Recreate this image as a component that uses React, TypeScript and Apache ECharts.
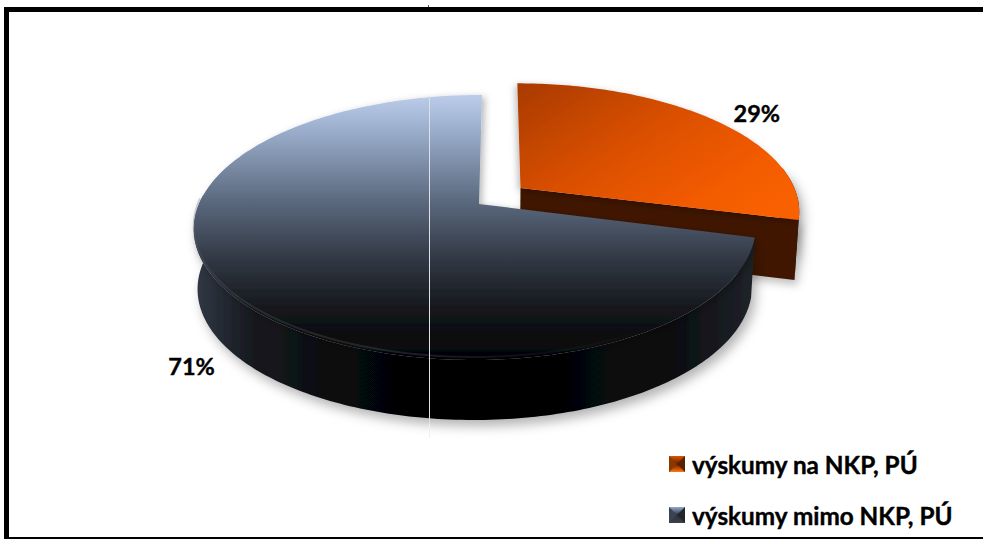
import React, { useEffect, useRef } from "react";
import * as echarts from "echarts";

const categories = ["výskumy na NKP, PÚ", "výskumy mimo NKP, PÚ"];
const shares = [29, 71];
const percentLabels = ["29%", "71%"];

const FONT = "Lato, Carlito, 'Open Sans', sans-serif";
const vGrad = (stops: [number, string][]) =>
  new echarts.graphic.LinearGradient(0, 0, 0, 1, stops.map(([offset, color]) => ({ offset, color })));
const hGrad = (stops: [number, string][]) =>
  new echarts.graphic.LinearGradient(0, 0, 1, 0, stops.map(([offset, color]) => ({ offset, color })));

// projection of the tilted disc
const CX = 479, CY = 204, RX = 280, RY = 128.4, K = 0.177, SKEW = 20, DEPTH = 60, TAPER = 0.987;
const project = (u: number, v: number): [number, number] => {
  const w = 1 + K * v;
  return [CX + (RX * u) / w + SKEW * (1 - 1 / w), CY - (RY * v) / w];
};

const looks = [
  {
    explode: [0.15, 0.1274],
    rightScale: 1,
    wallRange: [80, 105],
    top: new echarts.graphic.LinearGradient(0, 0, 1, 0.75, [
      { offset: 0, color: "#a83a00" },
      { offset: 0.45, color: "#d94f00" },
      { offset: 0.8, color: "#f25a00" },
      { offset: 1, color: "#f86000" },
    ]),
    side: "#401600",
    face: "#401600",
    labelRadius: 1.25,
    labelDrop: 8,
    labelShift: 0,
  },
  {
    explode: [0, 0],
    rightScale: 0.975,
    wallRange: [104, 275],
    top: vGrad([
      [0, "#bccdea"],
      [0.13, "#9bafcd"],
      [0.4, "#5b697e"],
      [0.62, "#313844"],
      [0.81, "#14171b"],
      [1, "#030304"],
    ]),
    side: hGrad([
      [0, "#323946"],
      [0.1, "#171a20"],
      [0.3, "#060708"],
      [0.55, "#000000"],
      [0.85, "#0b0d10"],
      [1, "#1e2329"],
    ]),
    face: "#14171b",
    labelRadius: 1.136,
    labelDrop: DEPTH,
    labelShift: 2,
  },
];

const renderSlice = (index: number) => (_params: any, api: any) => {
  const total = shares.reduce((a, b) => a + b, 0);
  const before = shares.slice(0, index).reduce((a, b) => a + b, 0);
  const t0 = (before / total) * 360;
  const t1 = ((before + api.value(0)) / total) * 360;
  const look = looks[index];
  const [du, dv] = look.explode;
  const at = (deg: number, r = 1) => {
    const a = (deg * Math.PI) / 180;
    const s = Math.sin(a);
    return project(du + r * (s > 0 ? s * look.rightScale : s), dv + r * Math.cos(a));
  };
  const steps = Math.ceil(t1 - t0);
  const degs: number[] = [];
  for (let i = 0; i <= steps; i++) degs.push(t0 + ((t1 - t0) * i) / steps);
  const arc = degs.map((d) => at(d));
  const apex = project(du, dv);
  const down = (p: [number, number]): [number, number] => [CX + (p[0] - CX) * TAPER, p[1] + DEPTH];
  const shadow = { shadowBlur: 12, shadowColor: "rgba(0,0,0,0.3)", shadowOffsetX: 4, shadowOffsetY: 6 };
  const children: any[] = [];

  // outer wall, only the part that faces the viewer
  const wall = degs.filter((d) => d >= look.wallRange[0] && d <= look.wallRange[1]).map((d) => at(d));
  children.push({
    type: "polygon",
    shape: { points: [...wall, ...wall.map(down).reverse()] },
    style: { fill: look.side, ...shadow },
  });
  if (index === 0) {
    const end = arc[arc.length - 1];
    children.push({
      type: "polygon",
      shape: { points: [apex, end, down(end), down(apex)] },
      style: { fill: look.face, shadowBlur: 8, shadowColor: "rgba(0,0,0,0.25)", shadowOffsetX: 3, shadowOffsetY: 5 },
    });
  }
  // top surface
  children.push({
    type: "polygon",
    shape: { points: [apex, ...arc] },
    style: {
      fill: look.top,
      shadowBlur: 7,
      shadowColor: "rgba(0,0,0,0.28)",
      shadowOffsetX: index === 0 ? -2 : 3,
      shadowOffsetY: 2,
    },
  });
  // bevel highlight on the front rim
  if (index === 1) {
    const rim = degs.filter((d) => d > 135 && d < 272).map((d) => at(d));
    children.push({
      type: "polyline",
      shape: { points: rim.map((p) => [p[0], p[1] - 3]) },
      style: {
        fill: "none",
        lineWidth: 2,
        stroke: hGrad([
          [0, "rgba(90,96,108,0.28)"],
          [0.45, "rgba(90,92,98,0.32)"],
          [0.7, "rgba(60,60,62,0.2)"],
          [1, "rgba(30,32,36,0)"],
        ]),
      },
    });
  }
  // percentage label
  const mid = (t0 + t1) / 2;
  const lp = at(mid, look.labelRadius);
  children.push({
    type: "text",
    style: {
      x: lp[0] + look.labelShift,
      y: lp[1] + look.labelDrop,
      text: percentLabels[index],
      fill: "#000",
      stroke: "#000",
      lineWidth: 0.4,
      font: `bold 23.5px ${FONT}`,
      align: "center",
      verticalAlign: "middle",
    },
  });
  return { type: "group", children };
};

const facet = (points: number[][], fill: any) => ({ type: "polygon", z: 20, shape: { points }, style: { fill } });

export default function App() {
  const ref = useRef<HTMLDivElement>(null);
  useEffect(() => {
    const chart = echarts.init(ref.current!, undefined, { renderer: "svg" });
    chart.setOption({
      animation: false,
      backgroundColor: "#fff",
      legend: {
        orient: "vertical",
        left: 669,
        top: 451,
        padding: 0,
        itemWidth: 16,
        itemHeight: 16,
        itemGap: 25,
        selectedMode: false,
        icon: "rect",
        textStyle: {
          color: "#000",
          fontFamily: FONT,
          fontWeight: "bold",
          fontSize: 24.3,
          lineHeight: 26,
          padding: [0, 0, 0, 2],
          textBorderColor: "#000",
          textBorderWidth: 0.4,
        },
        data: [
          {
            name: categories[0],
            itemStyle: { color: vGrad([[0, "#e05600"], [0.5, "#5e2000"], [0.8, "#c85000"], [1, "#ff7a1a"]]) },
          },
          {
            name: categories[1],
            itemStyle: { color: vGrad([[0, "#93abd1"], [0.5, "#2a2f38"], [1, "#3e424a"]]) },
          },
        ],
      },
      series: categories.map((name, i) => ({
        type: "custom",
        name,
        coordinateSystem: "none",
        data: [[shares[i]]],
        renderItem: renderSlice(i),
        silent: true,
      })),
      graphic: [
        { type: "line", z: 20, shape: { x1: 429.5, y1: 96, x2: 429.5, y2: 424 }, style: { stroke: "#dde1e7", lineWidth: 1 } },
        { type: "line", z: 20, shape: { x1: 429.5, y1: 424, x2: 429.5, y2: 438 }, style: { stroke: "#f0f0f0", lineWidth: 1 } },
        { type: "rect", z: 20, shape: { x: 4, y: 7, width: 979, height: 5 }, style: { fill: "#000" } },
        { type: "rect", z: 20, shape: { x: 4, y: 7, width: 5, height: 532 }, style: { fill: "#000" } },
        { type: "rect", z: 20, shape: { x: 4, y: 537, width: 979, height: 2 }, style: { fill: "#000" } },
        { type: "rect", z: 20, shape: { x: 428, y: 5, width: 1, height: 2 }, style: { fill: "#555" } },
        facet([[669, 456], [677, 464], [669, 472]], "#8a3600"),
        facet([[685, 456], [677, 464], [685, 472]], "#5a2000"),
        facet([[669, 507], [677, 515], [669, 523]], "#3b4250"),
        facet([[685, 507], [677, 515], [685, 523]], "#20242c"),
      ],
    });
    return () => chart.dispose();
  }, []);
  return <div ref={ref} style={{ position: "fixed", left: 0, top: 0, width: 983, height: 539 }} />;
}
